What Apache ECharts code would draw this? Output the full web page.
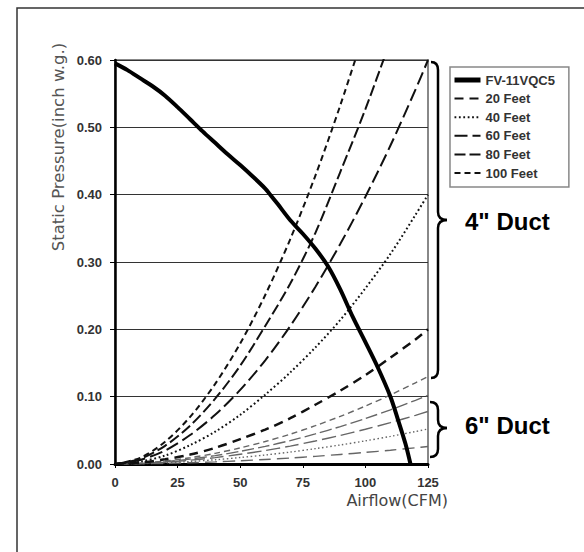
<!DOCTYPE html>
<html>
<head>
<meta charset="utf-8">
<script src="https://cdn.jsdelivr.net/npm/echarts@6/dist/echarts.min.js"></script>
<style>html,body{margin:0;padding:0;background:#fff;}#c{width:584px;height:552px;}</style>
</head>
<body>
<div id="c"></div>
<script>
// Fan performance curve
const fanFlow = [0,5,10,15,20,25,30,35,40,45,50,55,60,62,65,70,75,80,85,90,95,100,105,110,113,116,118];
const fanPressure = [0.595,0.585,0.573,0.561,0.547,0.530,0.512,0.494,0.477,0.460,0.444,0.427,0.409,0.400,0.386,0.362,0.342,0.320,0.294,0.259,0.218,0.181,0.143,0.100,0.066,0.030,0.000];

// Duct system curves, read at these airflows
const ductFlow = [0,10,20,30,40,50,60,70,80,90,100,110,120,125];
// 4" duct
const duct4_20  = [0,0.002,0.007,0.014,0.024,0.037,0.051,0.068,0.088,0.109,0.132,0.158,0.185,0.200];
const duct4_40  = [0,0.0035,0.0125,0.028,0.048,0.073,0.103,0.136,0.173,0.214,0.261,0.312,0.370,0.400];
const duct4_60  = [0,0.006,0.020,0.043,0.073,0.110,0.154,0.205,0.263,0.327,0.397,0.473,0.556,0.600];
const duct4_80  = [0,0.0075,0.027,0.057,0.097,0.146,0.205,0.268,0.343,0.434,0.527,0.629,null,null];
const duct4_100 = [0,0.009,0.033,0.070,0.119,0.179,0.251,0.334,0.428,0.533,0.647,null,null,null];
// 6" duct
const duct6_20  = [0,0.0002,0.0009,0.0019,0.0032,0.0048,0.0067,0.0089,0.0114,0.0142,0.0172,0.0205,0.0241,0.026];
const duct6_40  = [0,0.0005,0.0018,0.0037,0.0063,0.0096,0.0134,0.0177,0.0228,0.0283,0.0344,0.041,0.0482,0.052];
const duct6_60  = [0,0.0007,0.0026,0.0056,0.0095,0.0144,0.020,0.0266,0.0342,0.0425,0.0516,0.0615,0.0723,0.078];
const duct6_80  = [0,0.001,0.0034,0.0073,0.0124,0.0188,0.0262,0.0348,0.0447,0.0556,0.0675,0.0805,0.0946,0.102];
const duct6_100 = [0,0.0012,0.0044,0.0093,0.0158,0.0239,0.0334,0.0443,0.0569,0.0708,0.0861,0.1026,0.1206,0.130];

const legendNames = ['FV-11VQC5','20 Feet','40 Feet','60 Feet','80 Feet','100 Feet'];
const xTicks = [0,25,50,75,100,125];

function pairs(xs, ys){
  const out = [];
  for (let i=0;i<xs.length;i++){ if (ys[i] !== null) out.push([xs[i], ys[i]]); }
  return out;
}
const noSymbol = {color: 'rgba(0,0,0,0)', borderWidth: 0};
function duct(name, ys, dash, width, color, z){
  return {
    name: name, type: 'line', data: pairs(ductFlow, ys), symbol: 'none', smooth: 0.3,
    clip: true, silent: true, z: z, itemStyle: noSymbol,
    lineStyle: {color: color, width: width, type: dash}
  };
}
// curly brace built from simple graphic pieces
function brace(xEnd, xV, xTip, yTop, yMid, yBot){
  const st = {stroke: '#000', lineWidth: 2.5, fill: null};
  const r = 8;
  return {
    type: 'group', silent: true,
    children: [
      {type: 'bezierCurve', shape: {x1: xEnd, y1: yTop, cpx1: xV, cpy1: yTop, x2: xV, y2: yTop + r}, style: st},
      {type: 'line', shape: {x1: xV, y1: yTop + r, x2: xV, y2: yMid - r}, style: st},
      {type: 'bezierCurve', shape: {x1: xV, y1: yMid - r, cpx1: xV, cpy1: yMid, x2: xTip, y2: yMid}, style: st},
      {type: 'bezierCurve', shape: {x1: xTip, y1: yMid, cpx1: xV, cpy1: yMid, x2: xV, y2: yMid + r}, style: st},
      {type: 'line', shape: {x1: xV, y1: yMid + r, x2: xV, y2: yBot - r}, style: st},
      {type: 'bezierCurve', shape: {x1: xV, y1: yBot - r, cpx1: xV, cpy1: yBot, x2: xEnd, y2: yBot}, style: st}
    ]
  };
}

const chart = echarts.init(document.getElementById('c'), null, {renderer: 'svg'});
const black = '#111';
const gray = '#666';
const series = [
  duct('6in 20 Feet',  duct6_20,  [12,6], 1.4, gray, 2),
  duct('6in 40 Feet',  duct6_40,  [1.5,2.5], 1.4, gray, 2),
  duct('6in 60 Feet',  duct6_60,  [14,5], 1.4, gray, 2),
  duct('6in 80 Feet',  duct6_80,  [12,4], 1.4, gray, 2),
  duct('6in 100 Feet', duct6_100, [6,4], 1.4, gray, 2),
  duct('20 Feet',  duct4_20,  [9,6], 2.5, black, 3),
  duct('40 Feet',  duct4_40,  [1.8,2.6], 2, black, 3),
  duct('60 Feet',  duct4_60,  [13,5], 2, black, 3),
  duct('80 Feet',  duct4_80,  [11,4], 2, black, 3),
  duct('100 Feet', duct4_100, [6,4], 2, black, 3),
  {
    name: 'FV-11VQC5', type: 'line', data: pairs(fanFlow, fanPressure), symbol: 'none', smooth: 0.3,
    silent: true, z: 5, itemStyle: noSymbol, lineStyle: {color: '#000', width: 4}
  }
];

const option = {
  backgroundColor: '#fff',
  animation: false,
  grid: {left: 115, right: 156, top: 60, bottom: 88, show: true, borderColor: '#888', borderWidth: 2, backgroundColor: 'transparent'},
  xAxis: {
    type: 'value', min: 0, max: 125, interval: 25,
    axisLine: {show: true, onZero: false, lineStyle: {color: '#000', width: 3}},
    axisTick: {show: true, length: 4, lineStyle: {color: '#000', width: 1}},
    axisLabel: {margin: 12, color: '#333', fontSize: 13, fontWeight: 'bold', fontFamily: 'Liberation Sans, Arial, sans-serif',
      formatter: v => xTicks.indexOf(v) >= 0 ? String(v) : ''},
    splitLine: {show: false}
  },
  yAxis: {
    type: 'value', min: 0, max: 0.6, interval: 0.1,
    axisLine: {show: true, onZero: false, lineStyle: {color: '#000', width: 2.5}},
    axisTick: {show: true, length: 5, lineStyle: {color: '#000', width: 1}},
    axisLabel: {margin: 13, color: '#333', fontSize: 13, fontWeight: 'bold', fontFamily: 'Liberation Sans, Arial, sans-serif',
      formatter: v => v.toFixed(2)},
    splitLine: {show: true, lineStyle: {color: '#333', width: 1}}
  },
  legend: {
    orient: 'vertical', left: 450, top: 67,
    data: [
      {name: legendNames[0], lineStyle: {width: 5}},
      {name: legendNames[1], lineStyle: {width: 2}},
      {name: legendNames[2], lineStyle: {width: 2}},
      {name: legendNames[3], lineStyle: {width: 2}},
      {name: legendNames[4], lineStyle: {width: 2}},
      {name: legendNames[5], lineStyle: {width: 2}}
    ],
    itemWidth: 26, itemHeight: 14, itemGap: 4.6,
    padding: [6, 14, 7, 2],
    borderColor: '#888', borderWidth: 1.5, backgroundColor: '#fff',
    selectedMode: false,
    itemStyle: {color: 'rgba(0,0,0,0)', borderWidth: 0},
    textStyle: {color: '#333', fontSize: 13, fontWeight: 'bold', lineHeight: 14, fontFamily: 'Liberation Sans, Arial, sans-serif'}
  },
  graphic: [
    {type: 'polyline', silent: true, shape: {points: [[17, 552], [17, 8], [584, 8]]}, style: {stroke: '#333', lineWidth: 1.5, fill: null}},
    brace(431, 438, 447, 62, 220, 378),
    brace(430, 438, 447, 402, 428, 457),
    {type: 'text', silent: true, x: 465, y: 221, style: {text: '4" Duct', fontSize: 24, fontWeight: 'bold', fontFamily: 'Liberation Sans, Arial, sans-serif', fill: '#000', align: 'left', verticalAlign: 'middle'}},
    {type: 'text', silent: true, x: 465, y: 425, style: {text: '6" Duct', fontSize: 24, fontWeight: 'bold', fontFamily: 'Liberation Sans, Arial, sans-serif', fill: '#000', align: 'left', verticalAlign: 'middle'}},
    {type: 'text', silent: true, x: 58, y: 147, rotation: Math.PI/2, style: {text: 'Static Pressure(inch w.g.)', fontSize: 16.5, fontFamily: 'DejaVu Sans, sans-serif', fill: '#555', align: 'center', verticalAlign: 'middle'}},
    {type: 'text', silent: true, x: 448, y: 500, style: {text: 'Airflow(CFM)', fontSize: 16, fontFamily: 'DejaVu Sans, sans-serif', fill: '#444', align: 'right', verticalAlign: 'middle'}}
  ],
  series: series
};
chart.setOption(option);
</script>
</body>
</html>
